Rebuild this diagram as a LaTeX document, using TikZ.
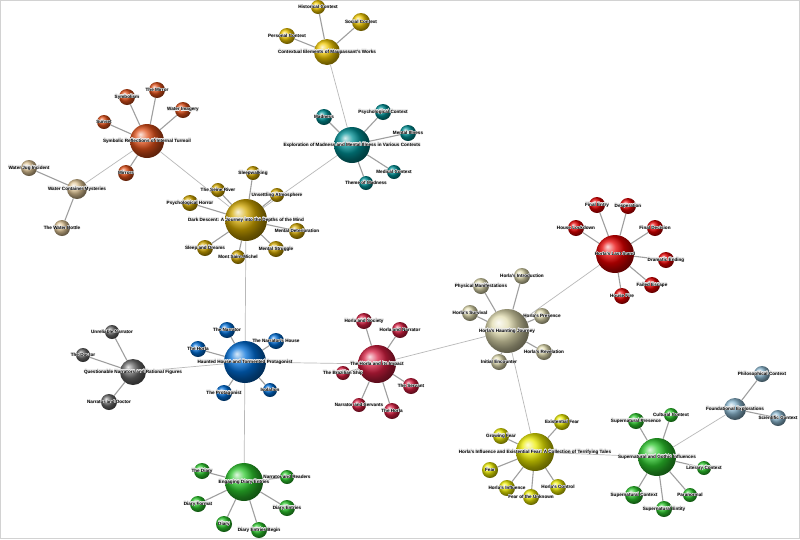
\documentclass[tikz,border=0pt]{standalone}
\usepackage{fontspec}
\setmainfont{Liberation Sans}
\usepackage{contour}
\contourlength{0.35pt}
\usetikzlibrary{backgrounds}

\pgfdeclarelayer{labels}
\pgfsetlayers{background,main,labels}

\definecolor{cgold}{RGB}{240,200,0}
\definecolor{orng}{RGB}{225,80,25}
\definecolor{tanw}{RGB}{225,198,150}
\definecolor{teal}{RGB}{0,145,150}
\definecolor{dgold}{RGB}{210,168,0}
\definecolor{hred}{RGB}{230,0,0}
\definecolor{khaki}{RGB}{225,220,175}
\definecolor{dgray}{RGB}{105,105,105}
\definecolor{hblue}{RGB}{0,110,215}
\definecolor{crim}{RGB}{215,30,65}
\definecolor{yell}{RGB}{235,235,0}
\definecolor{grn}{RGB}{45,200,45}
\definecolor{lblue}{RGB}{140,185,210}

\tikzset{
  bub/.style={circle, inner sep=0pt, minimum size={2*#1 pt}},
  lbl/.style={inner sep=0pt, font=\fontsize{4.6}{5}\selectfont\bfseries, text=black},
  spoke/.style={draw=gray!75, line width=1.1pt},
  link/.style={draw=gray!55, line width=0.7pt}
}
\newcommand{\halo}[1]{\contour{white!85!gray}{#1}}

\begin{document}
\begin{tikzpicture}[x=1pt, y=-1pt]
\useasboundingbox (0,0) rectangle (800,539);

% contextual elements
\foreach \n/\x/\y/\r/\txt in {ctx/327/52/13/Contextual Elements of Maupassant's Works,
  hist/318/7/7/Historical Context, soc/361/22/9/Social Context, pers/287/36/8/Personal Context}
  {\node[bub=\r, ball color=cgold] (\n) at (\x,\y) {};
   \begin{pgfonlayer}{labels}\node[lbl] (\n-t) at (\n) {\halo{\txt}};\end{pgfonlayer}}

% symbolic reflections
\foreach \n/\x/\y/\r/\txt in {sym/147/141/17/Symbolic Reflections of Internal Turmoil,
  mirror/157/90/8/The Mirror, symb/127/97/8/Symbolism, wimg/183/110/8/Water Imagery,
  sunset/104/122/7/Sunset, mirrors/126/173/8/Mirrors}
  {\node[bub=\r, ball color=orng] (\n) at (\x,\y) {};
   \begin{pgfonlayer}{labels}\node[lbl] (\n-t) at (\n) {\halo{\txt}};\end{pgfonlayer}}

% water
\foreach \n/\x/\y/\r/\txt in {water/77/189/10/Water Container Mysteries,
  jug/29/168/8/Water Jug Incident, bottle/62/228/8/The Water Bottle}
  {\node[bub=\r, ball color=tanw] (\n) at (\x,\y) {};
   \begin{pgfonlayer}{labels}\node[lbl] (\n-t) at (\n) {\halo{\txt}};\end{pgfonlayer}}

% madness
\foreach \n/\x/\y/\r/\txt in {mad/352/145/18/Exploration of Madness and Mental Illness in Various Contexts,
  madn/324/117/8/Madness, psyc/383/112/8/Psychological Context, ment/408/133/8/Mental Illness,
  med/394/172/7/Medical Context, theme/366/183/7/Theme of Madness}
  {\node[bub=\r, ball color=teal] (\n) at (\x,\y) {};
   \begin{pgfonlayer}{labels}\node[lbl] (\n-t) at (\n) {\halo{\txt}};\end{pgfonlayer}}

% dark descent
\foreach \n/\x/\y/\r/\txt in {dark/246/220/21/Dark Descent: A Journey into the Depths of the Mind,
  sleepw/253/173/7/Sleepwalking, seine/218/190/7/The Seine River, unset/277/195/7/Unsettling Atmosphere,
  psyh/190/203/8/Psychological Horror, mdet/297/231/8/Mental Deterioration,
  sleepd/205/248/8/Sleep and Dreams, mstr/276/249/8/Mental Struggle, mont/238/257/7/Mont Saint-Michel}
  {\node[bub=\r, ball color=dgold] (\n) at (\x,\y) {};
   \begin{pgfonlayer}{labels}\node[lbl] (\n-t) at (\n) {\halo{\txt}};\end{pgfonlayer}}

% last stand
\foreach \n/\x/\y/\r/\txt in {last/615/254/19/Horla's Last Stand,
  fentry/597/205/8/Final Entry, desp/628/206/8/Desperation, lock/576/228/8/House Lockdown,
  fdec/655/228/8/Final Decision, dram/666/260/8/Dramatic Ending, fesc/652/285/8/Failed Escape,
  fire/622/296/8/House Fire}
  {\node[bub=\r, ball color=hred] (\n) at (\x,\y) {};
   \begin{pgfonlayer}{labels}\node[lbl] (\n-t) at (\n) {\halo{\txt}};\end{pgfonlayer}}

% haunting journey
\foreach \n/\x/\y/\r/\txt in {haunt/507/331/22/Horla's Haunting Journey,
  intro/522/276/8/Horla's Introduction, phys/481/286/8/Physical Manifestations,
  surv/470/313/8/Horla's Survival, pres/542/316/8/Horla's Presence,
  revl/544/352/8/Horla's Revelation, init/499/362/8/Initial Encounter}
  {\node[bub=\r, ball color=khaki] (\n) at (\x,\y) {};
   \begin{pgfonlayer}{labels}\node[lbl] (\n-t) at (\n) {\halo{\txt}};\end{pgfonlayer}}

% narrators
\foreach \n/\x/\y/\r/\txt in {quest/133/372/13/Questionable Narrators and Rational Figures,
  unrel/112/332/7/Unreliable Narrator, doc/83/355/7/The Doctor, nardoc/109/402/8/Narrator and Doctor}
  {\node[bub=\r, ball color=dgray] (\n) at (\x,\y) {};
   \begin{pgfonlayer}{labels}\node[lbl] (\n-t) at (\n) {\halo{\txt}};\end{pgfonlayer}}

% haunted house
\foreach \n/\x/\y/\r/\txt in {house/245/362/21/Haunted House and Tormented Protagonist,
  narr/227/330/8/The Narrator, nhouse/276/341/8/The Narrator's House, horlab/198/349/8/The Horla,
  prot/224/393/8/The Protagonist, isol/270/390/7/Isolation}
  {\node[bub=\r, ball color=hblue] (\n) at (\x,\y) {};
   \begin{pgfonlayer}{labels}\node[lbl] (\n-t) at (\n) {\halo{\txt}};\end{pgfonlayer}}

% impact
\foreach \n/\x/\y/\r/\txt in {impact/377/364/19/The Horla and its Impact,
  hsoc/364/321/8/Horla and Society, hnarr/400/330/8/Horla and Narrator,
  ship/343/373/7/The Brazilian Ship, serv/411/386/8/The Servant,
  nserv/359/405/7/Narrator and Servants, horlac/392/411/8/The Horla}
  {\node[bub=\r, ball color=crim] (\n) at (\x,\y) {};
   \begin{pgfonlayer}{labels}\node[lbl] (\n-t) at (\n) {\halo{\txt}};\end{pgfonlayer}}

% existential fear
\foreach \n/\x/\y/\r/\txt in {infl/535/452/19/Horla's Influence and Existential Fear: A Collection of Terrifying Tales,
  exist/562/422/8/Existential Fear, grow/501/436/8/Growing Fear, fear/490/470/8/Fear,
  hinf/507/488/8/Horla's Influence, unkn/531/497/8/Fear of the Unknown, ctrl/558/487/8/Horla's Control}
  {\node[bub=\r, ball color=yell] (\n) at (\x,\y) {};
   \begin{pgfonlayer}{labels}\node[lbl] (\n-t) at (\n) {\halo{\txt}};\end{pgfonlayer}}

% gothic
\foreach \n/\x/\y/\r/\txt in {goth/657/457/19/Supernatural and Gothic Influences,
  spres/636/421/8/Supernatural Presence, cult/671/415/7/Cultural Context,
  lit/704/468/7/Literary Context, para/690/495/7/Paranormal,
  sctx/634/495/9/Supernatural Context, sent/664/509/8/Supernatural Entity}
  {\node[bub=\r, ball color=grn] (\n) at (\x,\y) {};
   \begin{pgfonlayer}{labels}\node[lbl] (\n-t) at (\n) {\halo{\txt}};\end{pgfonlayer}}

% foundations
\foreach \n/\x/\y/\r/\txt in {found/735/409/11/Foundational Explorations,
  phil/762/374/8/Philosophical Context, sci/778/418/8/Scientific Context}
  {\node[bub=\r, ball color=lblue] (\n) at (\x,\y) {};
   \begin{pgfonlayer}{labels}\node[lbl] (\n-t) at (\n) {\halo{\txt}};\end{pgfonlayer}}

% diary
\foreach \n/\x/\y/\r/\txt in {diary/244/482/19/Engaging Diary Entries,
  tdiary/202/471/8/The Diary, nread/287/477/7/Narrator and Readers,
  dform/198/504/8/Diary Format, dent/287/508/8/Diary Entries,
  dy/224/524/8/Diary, dbeg/259/530/8/Diary Entries Begin}
  {\node[bub=\r, ball color=grn] (\n) at (\x,\y) {};
   \begin{pgfonlayer}{labels}\node[lbl] (\n-t) at (\n) {\halo{\txt}};\end{pgfonlayer}}

\begin{scope}[on background layer]
\fill[white] (0,0) rectangle (800,539);
\draw[gray!35, line width=1pt] (0.5,0.5) rectangle (799.5,538.5);
% spokes
\foreach \h/\ls in {ctx/{hist,soc,pers}, sym/{mirror,symb,wimg,sunset,mirrors}, water/{jug,bottle},
  mad/{madn,psyc,ment,med,theme}, dark/{sleepw,seine,unset,psyh,mdet,sleepd,mstr,mont},
  last/{fentry,desp,lock,fdec,dram,fesc,fire}, haunt/{intro,phys,surv,pres,revl,init},
  quest/{unrel,doc,nardoc}, house/{narr,nhouse,horlab,prot,isol},
  impact/{hsoc,hnarr,ship,serv,nserv,horlac}, infl/{exist,grow,fear,hinf,unkn,ctrl},
  goth/{spres,cult,lit,para,sctx,sent}, found/{phil,sci},
  diary/{tdiary,nread,dform,dent,dy,dbeg}}
  {\foreach \l in \ls {\draw[spoke] (\h) -- (\l);}}
% links between hubs
\foreach \a/\b in {ctx/mad, sym/water, sym/dark, dark/mad, dark/house, house/quest,
  house/impact, house/diary, impact/haunt, haunt/last, haunt/infl, infl/goth, goth/found}
  {\draw[link] (\a) -- (\b);}
\end{scope}
\end{tikzpicture}
\end{document}
